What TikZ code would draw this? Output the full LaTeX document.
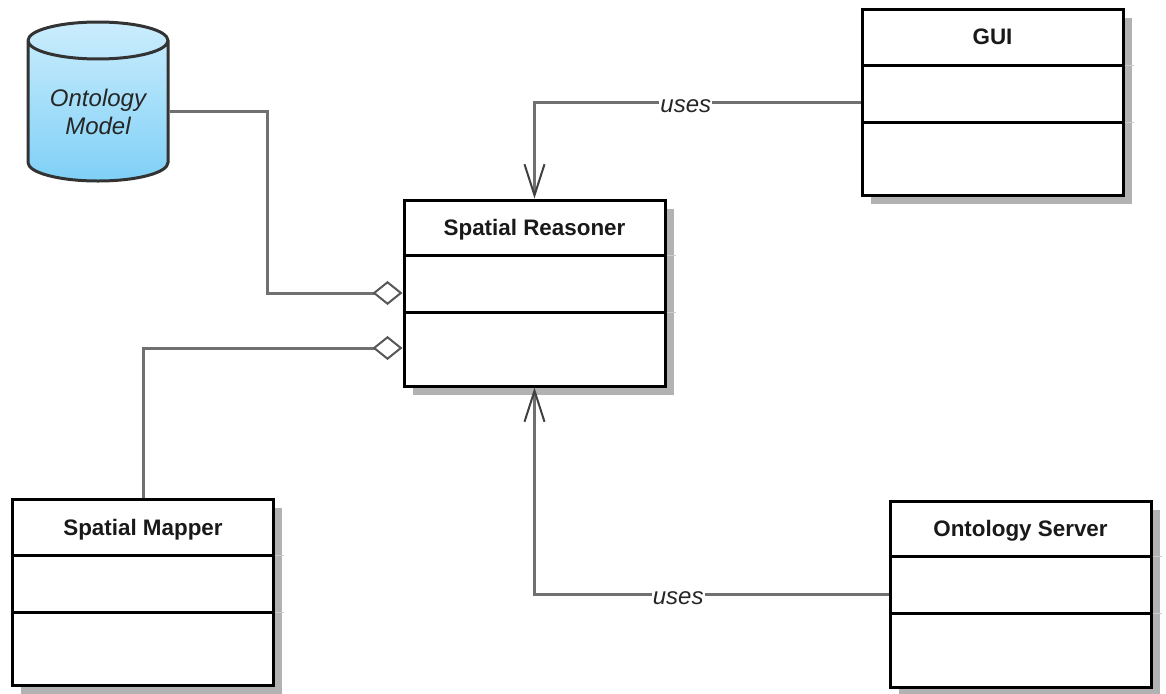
\documentclass[tikz,border=0pt]{standalone}
\usepackage{fontspec}
\setmainfont{Liberation Sans}
\usetikzlibrary{positioning,arrows.meta,shapes.geometric,shadows}
\definecolor{linkgray}{HTML}{707070}
\definecolor{cyltop}{HTML}{CBEDFD}
\definecolor{cylbottom}{HTML}{7FD0F6}

\begin{document}
\begin{tikzpicture}[x=1pt,y=-1pt,
    umlclass/.style={rectangle,draw=black,line width=3pt,fill=white,minimum width=261pt,minimum height=186pt,
      inner sep=0pt,drop shadow={shadow xshift=8.5pt,shadow yshift=-8.5pt,opacity=1,fill=black!30}},
    classtitle/.style={inner sep=0pt,anchor=base,font=\fontsize{22.4}{26}\selectfont\bfseries,text=black!90},
    divider/.style={draw=black,line width=3pt},
    tick/.style={draw=black!20,line width=1pt},
    link/.style={draw=linkgray,line width=3pt},
    uses/.style={link,-{Straight Barb[length=31pt,width=20pt,line width=2pt,color=black!75]}},
    aggregation/.style={link,-{Diamond[open,length=30pt,width=24pt,line width=2pt,fill=white,color=black!65]}},
    edgelabel/.style={fill=white,inner sep=1pt,yshift=-4pt,font=\fontsize{24}{28}\selectfont\itshape,text=black!85}]
    \useasboundingbox (0,0) rectangle (1166,693);
    % classes
    \foreach \name/\x/\y/\title in {reasoner/534.5/293/Spatial Reasoner,gui/992.5/102.5/GUI,
      mapper/143/592.5/Spatial Mapper,server/1020.5/594/Ontology Server} {
      \node[umlclass] (\name) at (\x,\y) {};
      \node[classtitle] (\name title) at ([yshift=-37pt]\name.north) {\title};
      \draw[divider] ([yshift=-57pt]\name.north west) -- ([yshift=-57pt]\name.north east);
      \draw[divider] ([yshift=-114pt]\name.north west) -- ([yshift=-114pt]\name.north east);
      \draw[tick] ([yshift=-57pt]\name.north east) -- ++(9,0);
      \draw[tick] ([yshift=-114pt]\name.north east) -- ++(9,0);
    }
    \node[cylinder,shape border rotate=90,shape aspect=0.385,draw=black!80,line width=3pt,
      top color=cyltop,bottom color=cylbottom,minimum width=140pt,minimum height=159pt,inner sep=0pt,
      align=center,font=\fontsize{24}{28}\selectfont\itshape,text=black!85] (ontology) at (98,111.5) {Ontology\\Model};
    % connectors
    \draw[aggregation] (ontology.east) -- ++(98,0) |- (reasoner.west);
    \draw[aggregation] (mapper.north) |- ([yshift=-55pt]reasoner.west);
    \draw[uses] (gui.west) -| node[edgelabel,pos=0.268] (usesgui) {uses} (reasoner.north);
    \draw[uses] (server.west) -| node[edgelabel,pos=0.297] (usesserver) {uses} (reasoner.south);
\end{tikzpicture}
\end{document}
